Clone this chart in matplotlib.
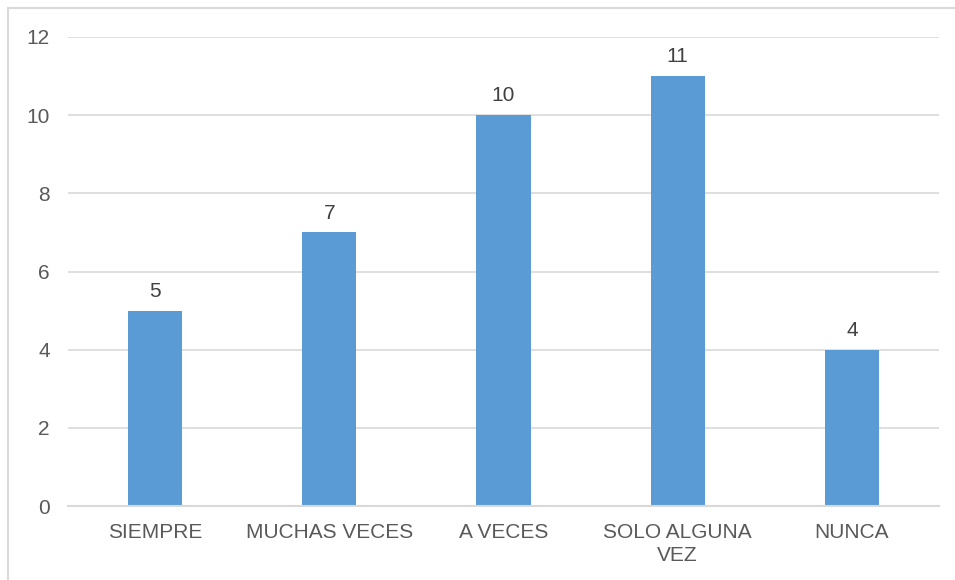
import matplotlib.pyplot as plt
from matplotlib.patches import Rectangle

plt.rcParams['font.family'] = ['Liberation Sans', 'DejaVu Sans']

categorias = ['SIEMPRE', 'MUCHAS VECES', 'A VECES', 'SOLO ALGUNA\nVEZ', 'NUNCA']
valores = [5, 7, 10, 11, 4]
yticks = [0, 2, 4, 6, 8, 10, 12]

text_color = '#595959'
grid_color = '#D9D9D9'

fig = plt.figure(figsize=(9.55, 5.8), dpi=100)
ax = fig.add_axes([68 / 955, 74 / 580, (939 - 68) / 955, (506 - 37) / 580])

x = range(len(categorias))
bars = ax.bar(x, valores, width=0.31, color='#5B9BD5', zorder=3)

for b, v in zip(bars, valores):
    ax.annotate(str(v), (b.get_x() + b.get_width() / 2, v),
                xytext=(0, 7), textcoords='offset points',
                ha='center', va='bottom', fontsize=15, color='#404040')

ax.set_xlim(-0.5, len(categorias) - 0.5)
ax.set_ylim(0, 12)
ax.set_yticks(yticks)
ax.set_xticks(list(x))
ax.set_xticklabels(categorias, va='top', linespacing=1.3)
ax.tick_params(axis='both', length=0, labelsize=15, labelcolor=text_color)
ax.tick_params(axis='y', pad=13)
ax.tick_params(axis='x', pad=12)
ax.grid(axis='y', color=grid_color, linewidth=1.2, zorder=0)

for s in ['top', 'right', 'left']:
    ax.spines[s].set_visible(False)
ax.spines['bottom'].set_color(grid_color)
ax.spines['bottom'].set_linewidth(1.5)
ax.spines['bottom'].set_zorder(4)

# thin frame around the chart
fig.patches.append(Rectangle((8 / 955, -0.05), 1.1, 1.05 - 8 / 580,
                             transform=fig.transFigure, fill=False,
                             edgecolor=grid_color, linewidth=1.5))

fig.savefig('out.png', dpi=100)
